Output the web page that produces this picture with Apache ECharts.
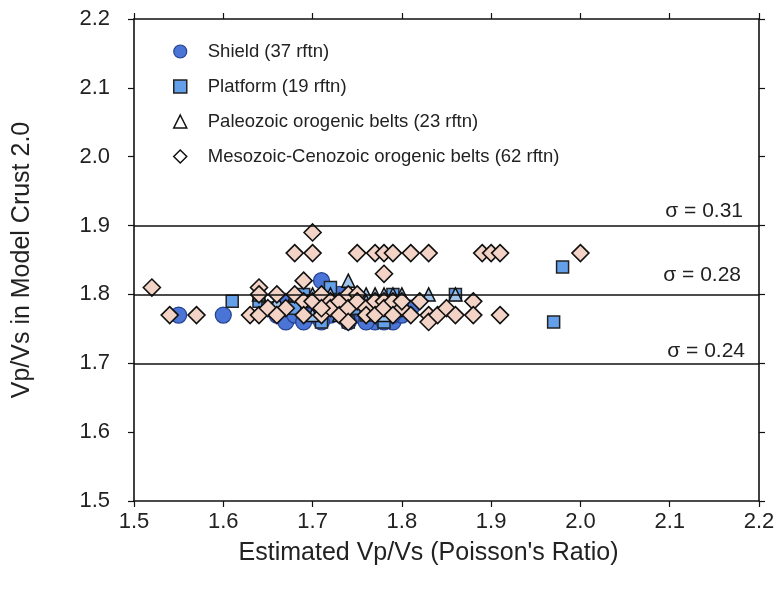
<!DOCTYPE html>
<html>
<head>
<meta charset="utf-8">
<script src="https://cdn.jsdelivr.net/npm/echarts@6/dist/echarts.min.js"></script>
<style>html,body{margin:0;padding:0;background:#fff;}#c{width:779px;height:593px;}</style>
</head>
<body>
<div id="c"></div>
<script>
const xTicks = [1.5, 1.6, 1.7, 1.8, 1.9, 2.0, 2.1, 2.2];
const yTicks = [1.5, 1.6, 1.7, 1.8, 1.9, 2.0, 2.1, 2.2];
const seriesNames = ['Shield (37 rftn)', 'Platform (19 rftn)', 'Paleozoic orogenic belts (23 rftn)', 'Mesozoic-Cenozoic orogenic belts (62 rftn)'];
const sigmaLines = [1.9, 1.8, 1.7];
const sigmaLabels = ['σ = 0.31', 'σ = 0.28', 'σ = 0.24'];

const shield = [[1.55,1.77],[1.60,1.77],[1.66,1.78],[1.66,1.77],[1.67,1.76],[1.68,1.78],[1.68,1.77],[1.69,1.79],[1.70,1.78],[1.70,1.77],[1.71,1.82],[1.71,1.78],[1.72,1.79],[1.72,1.77],[1.73,1.78],[1.73,1.80],[1.74,1.77],[1.74,1.79],[1.75,1.77],[1.75,1.78],[1.76,1.78],[1.76,1.77],[1.77,1.76],[1.77,1.78],[1.78,1.77],[1.78,1.76],[1.79,1.76],[1.79,1.78],[1.80,1.77],[1.80,1.78],[1.81,1.78],[1.67,1.79],[1.69,1.76],[1.71,1.76],[1.74,1.76],[1.76,1.76],[1.79,1.77]];
const platform = [[1.61,1.79],[1.64,1.79],[1.65,1.78],[1.69,1.80],[1.70,1.79],[1.71,1.76],[1.72,1.81],[1.73,1.78],[1.75,1.78],[1.76,1.77],[1.77,1.79],[1.78,1.76],[1.79,1.80],[1.80,1.78],[1.86,1.80],[1.97,1.76],[1.98,1.84],[1.74,1.76],[1.68,1.78]];
const paleozoic = [[1.64,1.80],[1.66,1.79],[1.68,1.80],[1.70,1.80],[1.71,1.80],[1.72,1.80],[1.73,1.79],[1.74,1.82],[1.74,1.80],[1.75,1.80],[1.76,1.80],[1.77,1.80],[1.78,1.80],[1.78,1.77],[1.79,1.80],[1.80,1.80],[1.83,1.80],[1.86,1.80],[1.72,1.78],[1.75,1.79],[1.76,1.79],[1.70,1.77],[1.73,1.77]];
const mesozoic = [[1.52,1.81],[1.54,1.77],[1.57,1.77],[1.63,1.77],[1.64,1.77],[1.64,1.81],[1.64,1.80],[1.66,1.80],[1.67,1.78],[1.68,1.80],[1.68,1.86],[1.69,1.82],[1.69,1.79],[1.69,1.77],[1.70,1.89],[1.70,1.86],[1.70,1.79],[1.71,1.77],[1.71,1.80],[1.72,1.79],[1.72,1.78],[1.73,1.79],[1.73,1.77],[1.74,1.80],[1.74,1.78],[1.75,1.86],[1.75,1.80],[1.75,1.79],[1.76,1.78],[1.76,1.77],[1.77,1.86],[1.77,1.79],[1.77,1.77],[1.78,1.86],[1.78,1.83],[1.78,1.79],[1.78,1.78],[1.79,1.86],[1.79,1.79],[1.80,1.78],[1.80,1.79],[1.81,1.86],[1.81,1.77],[1.82,1.79],[1.83,1.86],[1.83,1.77],[1.83,1.76],[1.84,1.77],[1.85,1.78],[1.86,1.77],[1.88,1.79],[1.88,1.77],[1.89,1.86],[1.90,1.86],[1.91,1.86],[1.91,1.77],[2.00,1.86],[1.65,1.78],[1.66,1.77],[1.71,1.78],[1.74,1.76],[1.79,1.77]];

const FONT = 'Liberation Sans, Arial, sans-serif';
const lineCol = '#111';

function mkAxis(pos, showLabel, name) {
  return {
    type: 'value', position: pos, min: 1.5, max: 2.2, interval: 0.1,
    axisLine: { show: true, onZero: false, lineStyle: { color: lineCol, width: 1.6 } },
    axisTick: { show: true, inside: false, length: 6, lineStyle: { color: lineCol, width: 1.2 } },
    splitLine: { show: false },
    axisLabel: { show: showLabel, fontFamily: FONT, fontSize: 22, color: '#222', margin: 10, formatter: v => v.toFixed(1) },
    name: name || '', nameLocation: 'middle', nameTextStyle: { fontFamily: FONT, fontSize: 25, color: '#222' }
  };
}

const xMain = mkAxis('bottom', true, 'Estimated Vp/Vs (Poisson\'s Ratio)');
xMain.nameGap = 40;
xMain.nameTextStyle.padding = [0, 36, 0, 0];
const yMain = mkAxis('left', true, 'Vp/Vs in Model Crust 2.0');
yMain.nameGap = 99;
yMain.axisLabel.margin = 24;

const sigmaDist = [4, 9, 2];
const sigmaPad = [12, 9, 12];
const markData = sigmaLines.map((v, i) => ({
  yAxis: v,
  label: { show: true, position: 'insideEndTop', formatter: sigmaLabels[i], distance: sigmaDist[i], fontFamily: FONT, fontSize: 21, color: '#222', padding: [0, sigmaPad[i], 0, 0] }
}));

const option = {
  animation: false,
  backgroundColor: '#fff',
  grid: { left: 134, right: 20, top: 19, bottom: 92 },
  xAxis: [xMain, mkAxis('top', false)],
  yAxis: [yMain, mkAxis('right', false)],
  legend: {
    orient: 'vertical', left: 168, top: 37, itemGap: 16, itemWidth: 13, itemHeight: 13,
    textStyle: { fontFamily: FONT, fontSize: 18.5, color: '#222', padding: [0, 0, 0, 16] },
    data: [
      { name: seriesNames[0], icon: 'circle', itemStyle: { color: '#4a74d6', borderColor: '#23408f', borderWidth: 1.2 } },
      { name: seriesNames[1], icon: 'rect', itemStyle: { color: '#64a0ea', borderColor: '#222', borderWidth: 1.5 } },
      { name: seriesNames[2], icon: 'triangle', itemStyle: { color: '#fff', borderColor: '#111', borderWidth: 1.5 } },
      { name: seriesNames[3], icon: 'diamond', itemStyle: { color: '#fff', borderColor: '#111', borderWidth: 1.5 } }
    ]
  },
  series: [
    { name: seriesNames[0], type: 'scatter', data: shield, symbol: 'circle', symbolSize: 16,
      itemStyle: { color: '#4a74d6', borderColor: '#23408f', borderWidth: 1.2, opacity: 1 },
      markLine: { silent: true, symbol: 'none', lineStyle: { color: lineCol, width: 1.6, type: 'solid' }, data: markData } },
    { name: seriesNames[1], type: 'scatter', data: platform, symbol: 'rect', symbolSize: 12,
      itemStyle: { color: '#64a0ea', borderColor: '#222', borderWidth: 1.5, opacity: 1 } },
    { name: seriesNames[2], type: 'scatter', data: paleozoic, symbol: 'triangle', symbolSize: 13,
      itemStyle: { color: '#9fc3ea', borderColor: '#111', borderWidth: 1.5, opacity: 1 } },
    { name: seriesNames[3], type: 'scatter', data: mesozoic, symbol: 'diamond', symbolSize: 17,
      itemStyle: { color: '#f3d3c6', borderColor: '#111', borderWidth: 1.6, opacity: 1 } }
  ]
};
const chart = echarts.init(document.getElementById('c'), null, { renderer: 'canvas' });
chart.setOption(option);
</script>
</body>
</html>
